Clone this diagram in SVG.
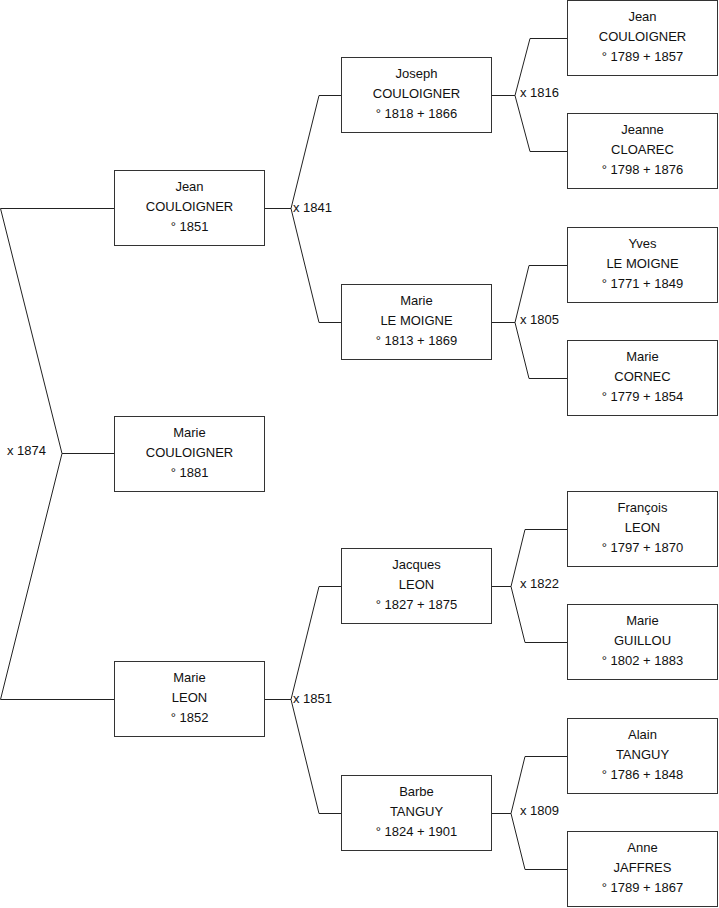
<svg xmlns="http://www.w3.org/2000/svg" width="719" height="908" viewBox="0 0 719 908">
<style>
.box{fill:#fff;stroke:#333;stroke-width:1}
.t{font-family:"Liberation Sans",Arial,sans-serif;font-size:13px;fill:#111;text-anchor:middle}
.lb{font-family:"Liberation Sans",Arial,sans-serif;font-size:13px;fill:#111}
.c{fill:none;stroke:#222;stroke-width:1}
</style>
<rect width="719" height="908" fill="#fff"/>
<g id="connectors">
<polyline class="c" points="114,208.5 0.5,208.5 62,453.5 0.5,699.5 114,699.5"/>
<line class="c" x1="62" y1="453.5" x2="114" y2="453.5"/>
<polyline class="c" points="265,208.5 291,208.5"/>
<polyline class="c" points="341,95.5 319,95.5 291,208.5 319,322.5 341,322.5"/>
<polyline class="c" points="265,699.5 291,699.5"/>
<polyline class="c" points="341,586.5 319,586.5 291,699.5 319,813.5 341,813.5"/>
<polyline class="c" points="492,95.5 515,95.5"/>
<polyline class="c" points="567,38.5 530,38.5 515,95.5 530,151.5 567,151.5"/>
<polyline class="c" points="492,322.5 515,322.5"/>
<polyline class="c" points="567,265.5 529,265.5 515,322.5 529,378.5 567,378.5"/>
<polyline class="c" points="492,586.5 511,586.5"/>
<polyline class="c" points="567,529.5 525,529.5 511,586.5 525,642.5 567,642.5"/>
<polyline class="c" points="492,813.5 511,813.5"/>
<polyline class="c" points="567,756.5 525,756.5 511,813.5 525,869.5 567,869.5"/>
<text class="lb" x="46" y="455" text-anchor="end">x 1874</text>
<text class="lb" x="293" y="212">x 1841</text>
<text class="lb" x="293" y="703">x 1851</text>
<text class="lb" x="520" y="97">x 1816</text>
<text class="lb" x="520" y="324">x 1805</text>
<text class="lb" x="520" y="588">x 1822</text>
<text class="lb" x="520" y="815">x 1809</text>
</g>
<g id="n-jean-1851">
<rect class="box" x="114.5" y="170.5" width="150" height="75"/>
<text class="t" x="189.5" y="191">Jean</text><text class="t" x="189.5" y="211">COULOIGNER</text><text class="t" x="189.5" y="231">° 1851</text>
</g>
<g id="n-marie-couloigner">
<rect class="box" x="114.5" y="416.5" width="150" height="75"/>
<text class="t" x="189.5" y="437">Marie</text><text class="t" x="189.5" y="457">COULOIGNER</text><text class="t" x="189.5" y="477">° 1881</text>
</g>
<g id="n-marie-leon">
<rect class="box" x="114.5" y="661.5" width="150" height="75"/>
<text class="t" x="189.5" y="682">Marie</text><text class="t" x="189.5" y="702">LEON</text><text class="t" x="189.5" y="722">° 1852</text>
</g>
<g id="n-joseph">
<rect class="box" x="341.5" y="57.5" width="150" height="75"/>
<text class="t" x="416.5" y="78">Joseph</text><text class="t" x="416.5" y="98">COULOIGNER</text><text class="t" x="416.5" y="118">° 1818 + 1866</text>
</g>
<g id="n-marie-lemoigne">
<rect class="box" x="341.5" y="284.5" width="150" height="75"/>
<text class="t" x="416.5" y="305">Marie</text><text class="t" x="416.5" y="325">LE MOIGNE</text><text class="t" x="416.5" y="345">° 1813 + 1869</text>
</g>
<g id="n-jacques">
<rect class="box" x="341.5" y="548.5" width="150" height="75"/>
<text class="t" x="416.5" y="569">Jacques</text><text class="t" x="416.5" y="589">LEON</text><text class="t" x="416.5" y="609">° 1827 + 1875</text>
</g>
<g id="n-barbe">
<rect class="box" x="341.5" y="775.5" width="150" height="75"/>
<text class="t" x="416.5" y="796">Barbe</text><text class="t" x="416.5" y="816">TANGUY</text><text class="t" x="416.5" y="836">° 1824 + 1901</text>
</g>
<g id="n-jean-1789">
<rect class="box" x="567.5" y="0.5" width="150" height="75"/>
<text class="t" x="642.5" y="21">Jean</text><text class="t" x="642.5" y="41">COULOIGNER</text><text class="t" x="642.5" y="61">° 1789 + 1857</text>
</g>
<g id="n-jeanne">
<rect class="box" x="567.5" y="113.5" width="150" height="75"/>
<text class="t" x="642.5" y="134">Jeanne</text><text class="t" x="642.5" y="154">CLOAREC</text><text class="t" x="642.5" y="174">° 1798 + 1876</text>
</g>
<g id="n-yves">
<rect class="box" x="567.5" y="227.5" width="150" height="75"/>
<text class="t" x="642.5" y="248">Yves</text><text class="t" x="642.5" y="268">LE MOIGNE</text><text class="t" x="642.5" y="288">° 1771 + 1849</text>
</g>
<g id="n-marie-cornec">
<rect class="box" x="567.5" y="340.5" width="150" height="75"/>
<text class="t" x="642.5" y="361">Marie</text><text class="t" x="642.5" y="381">CORNEC</text><text class="t" x="642.5" y="401">° 1779 + 1854</text>
</g>
<g id="n-francois">
<rect class="box" x="567.5" y="491.5" width="150" height="75"/>
<text class="t" x="642.5" y="512">François</text><text class="t" x="642.5" y="532">LEON</text><text class="t" x="642.5" y="552">° 1797 + 1870</text>
</g>
<g id="n-marie-guillou">
<rect class="box" x="567.5" y="604.5" width="150" height="75"/>
<text class="t" x="642.5" y="625">Marie</text><text class="t" x="642.5" y="645">GUILLOU</text><text class="t" x="642.5" y="665">° 1802 + 1883</text>
</g>
<g id="n-alain">
<rect class="box" x="567.5" y="718.5" width="150" height="75"/>
<text class="t" x="642.5" y="739">Alain</text><text class="t" x="642.5" y="759">TANGUY</text><text class="t" x="642.5" y="779">° 1786 + 1848</text>
</g>
<g id="n-anne">
<rect class="box" x="567.5" y="831.5" width="150" height="75"/>
<text class="t" x="642.5" y="852">Anne</text><text class="t" x="642.5" y="872">JAFFRES</text><text class="t" x="642.5" y="892">° 1789 + 1867</text>
</g>
</svg>
